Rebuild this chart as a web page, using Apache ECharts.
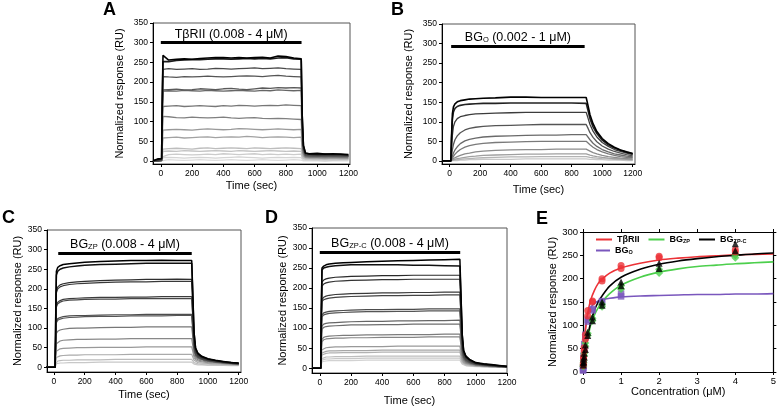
<!DOCTYPE html>
<html><head><meta charset="utf-8">
<script src="https://cdn.jsdelivr.net/npm/echarts@6/dist/echarts.min.js"></script>
<style>html,body{margin:0;padding:0;background:#fff}#c{width:779px;height:409px}</style>
</head><body><div id="c"></div>
<script>
// ---------- DATA ----------
const timeTicks = [0, 200, 400, 600, 800, 1000, 1200];
const respTicks = [0, 50, 100, 150, 200, 250, 300, 350];
const concTicks = [0, 1, 2, 3, 4, 5];
const eRespTicks = [0, 50, 100, 150, 200, 250, 300];

// Panel A: TβRII sensorgrams
const timeA = [-50, -20, 5, 10, 14, 50, 100, 150, 200, 250, 300, 350, 400, 450, 500, 550, 600, 650, 700, 750, 800, 850, 898, 904, 912, 925, 950, 1000, 1050, 1100, 1150, 1200];
const respA = [
  [0,5,6,180,268, 256,258,259,258,260,261,262,262,261,262,261,262,263,261,266,265,261, 259,120,40,20, 18,19,17,18,17,16],
  [0,3,5,170,252, 252,255,256,257,257,258,259,259,258,259,260,259,260,259,261,262,259, 258,115,38,19, 17,16,17,16,16,15],
  [0,0,2,150,232, 234,232,233,234,232,233,235,234,233,234,235,236,234,235,236,234,233, 232,100,32,16, 15,14,15,14,14,13],
  [0,0,1,140,214, 213,212,214,213,214,215,214,213,214,215,216,215,214,216,217,215,214, 213,95,30,15, 14,13,14,13,13,12],
  [0,0,1,120,180, 181,182,180,181,183,182,181,183,184,182,181,183,185,184,186,185,186, 185,85,28,14, 13,12,13,12,12,12],
  [0,0,1,115,177, 178,177,179,178,177,179,178,177,178,179,178,177,179,178,180,179,178, 179,80,26,13, 12,12,11,12,11,11],
  [0,0,1,90,138, 139,140,138,139,140,139,138,140,139,141,140,139,140,141,140,142,141, 140,64,22,12, 11,10,11,10,10,10],
  [0,0,0,70,113, 112,110,109,111,110,109,110,111,109,108,109,110,108,107,108,107,106, 105,50,18,10, 9,9,10,9,9,8],
  [0,0,0,50,78, 79,80,79,78,80,81,80,79,80,82,81,80,79,80,81,80,79, 80,38,14,9, 8,8,7,8,7,7],
  [0,0,0,38,58, 59,60,58,59,60,61,59,60,61,60,62,61,59,60,61,60,59, 60,28,12,8, 7,7,6,7,6,6],
  [0,0,0,20,30, 31,32,31,30,32,33,31,32,33,32,31,33,32,31,32,33,32, 31,15,8,6, 6,5,6,5,5,5],
  [0,0,0,15,24, 25,24,26,25,24,25,26,25,24,26,25,24,25,26,25,24,25, 24,12,6,5, 5,4,5,4,4,4],
  [0,0,0,10,15, 16,17,16,15,16,17,16,18,17,16,17,18,16,17,16,17,16, 17,8,4,3, 3,3,3,2,3,3],
  [0,0,0,5,8, 9,8,7,8,9,8,7,8,9,10,9,8,7,8,9,8,9, 8,4,2,2, 2,1,2,1,2,1],
  [0,0,0,1,2, 3,2,1,2,3,2,1,2,3,2,1,2,3,2,1,2,3, 2,1,0,0, 0,0,-1,0,0,0]
];

// Panel B: BG_O sensorgrams
const timeB = [-50, 8, 12, 18, 25, 35, 50, 70, 100, 130, 170, 220, 300, 400, 500, 600, 700, 800, 895, 905, 920, 940, 965, 1000, 1040, 1080, 1120, 1160, 1200];
const respB = [
  [0,0,60,120,138,146,151,154,156,158,159,160, 161,163,163,162,162,162,162, 145,118,95,75,57,44,35,28,23,19],
  [0,0,50,105,125,134,139,142,144,145,146,147, 147,148,148,148,148,148,147, 132,108,87,70,53,41,33,27,22,18],
  [0,0,30,65,88,100,108,113,116,118,120,121, 122,123,124,124,124,124,124, 112,93,76,61,47,37,29,24,20,16],
  [0,0,10,28,42,54,64,72,79,83,86,88, 90,91,92,93,93,93,93, 85,72,60,49,38,30,24,20,16,13],
  [0,0,4,12,20,28,36,44,51,55,58,61, 63,64,65,66,66,67,67, 62,54,45,37,29,23,18,15,12,10],
  [0,0,2,7,12,17,23,29,35,39,42,45, 47,48,49,50,50,50,50, 47,41,35,29,23,18,14,11,9,8],
  [0,0,1,3,6,8,11,14,18,20,23,25, 27,28,29,29,30,30,30, 28,25,21,18,14,11,9,7,6,5],
  [0,0,0,2,3,4,6,7,9,11,12,14, 15,16,17,17,18,18,18, 17,15,13,11,9,7,6,5,4,3],
  [0,0,0,1,2,2,3,4,5,6,7,8, 9,10,10,11,11,11,11, 10,9,8,7,6,5,4,3,3,2],
  [0,0,0,0,1,1,1,2,2,3,3,4, 4,4,5,5,5,5,5, 5,4,4,3,3,2,2,2,1,1]
];

// Panel C: BG_ZP sensorgrams
const timeC = [-50, 8, 12, 16, 25, 40, 60, 100, 150, 200, 300, 400, 500, 600, 700, 800, 895, 902, 910, 920, 935, 960, 1000, 1050, 1100, 1150, 1200];
const respC = [
  [0,0, 150,245,255,259,262,264,266,268, 270,271,272,272,273,272,272, 190,90,50,36,28, 22,18,15,12,11],
  [0,0, 140,235,245,250,253,256,258,260, 262,263,264,265,265,265,265, 185,88,48,35,27, 21,17,14,12,10],
  [0,0, 120,195,205,210,213,216,218,219, 221,222,223,224,224,225,224, 160,78,44,33,26, 20,17,14,11,10],
  [0,0, 115,190,200,205,208,211,213,214, 216,217,218,218,219,219,219, 156,76,43,32,25, 20,16,13,11,9],
  [0,0, 95,158,166,170,173,175,176,177, 178,178,179,179,180,180,180, 130,66,39,30,24, 19,16,13,11,9],
  [0,0, 92,154,162,166,169,171,172,173, 174,174,175,175,175,175,175, 126,64,38,29,23, 18,15,13,10,9],
  [0,0, 70,118,124,127,129,131,132,132, 133,134,134,135,135,135,135, 98,52,33,26,21, 17,14,12,10,9],
  [0,0, 68,114,120,123,125,127,128,129, 130,130,131,131,131,132,132, 96,51,32,25,21, 17,14,12,10,8],
  [0,0, 50,86,92,95,97,99,100,100, 101,102,102,103,103,103,103, 76,42,28,22,19, 15,13,11,9,8],
  [0,0, 35,60,65,67,69,70,71,71, 72,72,73,73,73,73,73, 55,32,23,19,16, 14,12,10,9,8],
  [0,0, 25,41,45,47,48,49,50,50, 51,51,51,52,52,52,52, 40,25,19,16,14, 12,11,9,8,7],
  [0,0, 15,25,28,29,30,31,31,32, 32,32,33,33,33,33,33, 26,18,14,12,11, 10,9,8,7,6],
  [0,0, 9,14,16,17,18,18,19,19, 19,20,20,20,20,20,20, 16,12,10,9,8, 8,7,6,6,5],
  [0,0, 5,9,10,11,11,12,12,12, 13,13,13,13,13,13,13, 11,8,7,6,6, 5,5,5,4,4]
];

// Panel D: BG_ZP-C sensorgrams
const timeD = [-50, 6, 10, 14, 25, 40, 60, 100, 150, 200, 300, 400, 500, 600, 700, 800, 898, 905, 913, 922, 937, 960, 1000, 1050, 1100, 1150, 1200];
const respD = [
  [0,0, 160,250,255,258,260,262,263,264, 266,267,268,269,270,271,272, 185,85,45,30,22, 14,11,9,7,5],
  [0,0, 150,245,250,252,254,256,257,258, 258,258,258,257,257,256,255, 178,82,43,29,21, 13,10,8,6,4],
  [0,0, 135,215,220,223,225,227,228,229, 230,231,231,232,232,232,232, 162,76,41,28,20, 13,10,8,6,4],
  [0,0, 130,205,210,213,215,217,218,219, 220,221,221,222,222,222,222, 155,73,40,27,19, 12,10,8,6,4],
  [0,0, 110,172,177,180,182,184,185,186, 187,188,188,189,189,190,190, 133,64,36,25,18, 12,9,7,5,4],
  [0,0, 105,166,171,173,175,177,178,179, 180,181,181,182,182,183,183, 128,62,35,24,17, 11,9,7,5,3],
  [0,0, 85,133,138,140,142,143,144,145, 146,146,147,147,148,148,148, 104,52,30,21,15, 10,8,6,5,3],
  [0,0, 82,128,133,135,137,138,139,140, 141,141,142,142,143,143,143, 100,50,29,20,15, 10,8,6,5,3],
  [0,0, 65,105,110,112,113,114,115,116, 117,117,118,118,119,119,120, 85,44,26,18,14, 9,7,6,4,3],
  [0,0, 60,97,102,104,105,106,107,108, 108,109,109,110,110,110,110, 78,41,25,17,13, 9,7,5,4,3],
  [0,0, 45,72,77,79,80,81,82,82, 83,83,84,84,84,85,85, 61,33,21,15,12, 8,6,5,4,3],
  [0,0, 42,66,71,73,74,75,75,76, 76,77,77,77,78,78,78, 56,31,20,14,11, 8,6,5,4,3],
  [0,0, 30,46,50,51,52,53,53,54, 54,54,55,55,55,55,55, 40,23,16,12,10, 7,5,4,3,3],
  [0,0, 24,38,41,42,43,43,44,44, 44,45,45,45,45,45,45, 33,20,14,11,9, 6,5,4,3,2],
  [0,0, 20,33,36,37,38,38,39,39, 39,40,40,40,40,40,40, 30,18,13,10,8, 6,5,4,3,2],
  [0,0, 15,24,27,28,28,29,29,29, 30,30,30,30,30,30,30, 23,14,10,8,7, 5,4,3,3,2],
  [0,0, 12,20,22,23,23,24,24,24, 25,25,25,25,25,25,25, 19,12,9,7,6, 5,4,3,2,2],
  [0,0, 9,16,18,18,19,19,19,19, 20,20,20,20,20,20,20, 15,10,7,6,5, 4,3,3,2,2]
];

// Injection bars (data coordinates) and their labels
const barA = [0, 900, 300];
const barB = [10, 885, 294];
const barC = [28, 895, 291];
const barD = [0, 900, 290];

// Panel E: binding isotherms
const concE = [0.008, 0.016, 0.031, 0.0625, 0.125, 0.25, 0.5, 1, 2, 4];
const concO = [0.002, 0.004, 0.008, 0.016, 0.031, 0.0625, 0.125, 0.25, 0.5, 1];
const redRun1 = [18, 32, 52, 80, 132, 152, 200, 228, 248, 262];
const redRun2 = [14, 28, 45, 70, 120, 150, 195, 222, 245, 257];
const greenRun1 = [15, 25, 40, 62, 83, 115, 145, 185, 220, 250];
const greenRun2 = [12, 20, 35, 55, 78, 110, 140, 178, 212, 245];
const blackRun1 = [20, 28, 40, 58, 85, 118, 150, 193, 233, 275];
const blackRun2 = [15, 22, 32, 48, 78, 110, 143, 185, 222, 260];
const purpleRun1 = [5, 10, 20, 35, 60, 80, 112, 135, 152, 168];
const purpleRun2 = [3, 8, 15, 30, 50, 75, 108, 132, 150, 162];
const fitX = [0, 0.01, 0.02, 0.05, 0.1, 0.15, 0.2, 0.3, 0.4, 0.5, 0.7, 1, 1.5, 2, 2.5, 3, 3.5, 4, 4.5, 5];
const fitRed = [0, 18, 35, 75, 115, 137, 154, 175, 190, 199, 212, 223, 233, 240, 244, 247, 249, 251, 252, 253];
const fitGreen = [0, 7, 14, 33, 62, 82, 100, 122, 138, 150, 168, 186, 203, 214, 221, 226, 229, 232, 234, 236];
const fitBlack = [0, 7, 15, 35, 70, 88, 105, 132, 150, 163, 184, 203, 220, 231, 238, 243, 247, 250, 253, 255];
const fitPurple = [0, 25, 45, 85, 115, 130, 138, 147, 152, 155, 158, 161, 163, 164, 165, 166, 166, 167, 167, 168];

// ---------- STYLE / LAYOUT ----------
const FONT = 'Liberation Sans, Arial, Helvetica, sans-serif';
const grayA = ['#000','#1a1a1a','#4a4a4a','#555','#5a5a5a','#666','#777','#808080','#999','#a2a2a2','#bdbdbd','#c4c4c4','#cccccc','#d4d4d4','#dcdcdc'];
const grayB = ['#000','#222','#3c3c3c','#555','#6a6a6a','#7a7a7a','#8c8c8c','#a0a0a0','#b4b4b4','#c8c8c8'];
const grayC = ['#000','#111','#2e2e2e','#383838','#3c3c3c','#474747','#4d4d4d','#555','#777','#888','#999','#aaa','#bbb','#c8c8c8'];
const grayD = ['#000','#111','#2a2a2a','#333','#3a3a3a','#444','#4c4c4c','#555','#666','#6e6e6e','#7c7c7c','#868686','#999','#a6a6a6','#b2b2b2','#bdbdbd','#c8c8c8','#d2d2d2'];

const grids = [
  {left:153, top:23, width:197, height:141, show:true, borderColor:'#555', borderWidth:1},
  {left:442, top:24, width:193, height:140, show:true, borderColor:'#555', borderWidth:1},
  {left:47, top:230, width:194, height:142, show:true, borderColor:'#555', borderWidth:1},
  {left:312, top:228, width:195, height:145, show:true, borderColor:'#555', borderWidth:1},
  {left:583, top:232, width:194, height:140, show:false}
];

function plain(v) { return String(v); }

function xAxisT(gi, min, max, gap) {
  return {type:'value', gridIndex:gi, min:min, max:max,
    axisLine:{show:true, onZero:false, lineStyle:{color:'#000', width:1}},
    axisTick:{show:true, customValues:timeTicks, length:3, lineStyle:{color:'#000'}},
    axisLabel:{customValues:timeTicks, formatter:plain, fontSize:8.5, color:'#000', margin:5, fontFamily:FONT},
    splitLine:{show:false},
    name:'Time (sec)', nameLocation:'middle', nameGap:gap,
    nameTextStyle:{fontSize:11, color:'#000', fontFamily:FONT}};
}
function yAxisR(gi, min, max, gap) {
  return {type:'value', gridIndex:gi, min:min, max:max,
    axisLine:{show:true, onZero:false, lineStyle:{color:'#000', width:1}},
    axisTick:{show:true, customValues:respTicks, length:3, lineStyle:{color:'#000'}},
    axisLabel:{customValues:respTicks, formatter:plain, fontSize:8.5, color:'#000', margin:5, fontFamily:FONT},
    splitLine:{show:false},
    name:'Normalized response (RU)', nameLocation:'middle', nameGap:gap,
    nameTextStyle:{fontSize:11, color:'#000', fontFamily:FONT}};
}

const titleRich = {
  m:{fontSize:12.5, color:'#000', fontFamily:FONT},
  s:{fontSize:7.5, color:'#000', fontFamily:FONT, verticalAlign:'bottom'}
};

function sensor(gi, t, curves, colors, width, bar, label) {
  return curves.map(function (vals, i) {
    const s = {type:'line', xAxisIndex:gi, yAxisIndex:gi,
      data: vals.map(function (v, j) { return [t[j], v]; }),
      symbol:'none', showSymbol:false, silent:true, animation:false,
      lineStyle:{width: i < 2 ? width + 0.3 : width, color:colors[i]},
      z: 10 + curves.length - i};
    if (i === 0) {
      s.markLine = {silent:true, symbol:'none', animation:false,
        lineStyle:{color:'#000', width:3, type:'solid'},
        label:{show:true, position:'insideMiddleTop', distance:2, formatter:label, rich:titleRich},
        data:[[{coord:[bar[0], bar[2]]}, {coord:[bar[1], bar[2]]}]]};
    }
    return s;
  });
}

function pts(xs, ys) { return ys.map(function (v, i) { return [xs[i], v]; }); }

const colRed = '#ec3237', colGreen = '#4ccf4c', colBlack = '#000', colPurple = '#7a57bd';

const series = []
  .concat(sensor(0, timeA, respA, grayA, 1.3, barA, '{m|TβRII (0.008 - 4 μM)}'))
  .concat(sensor(1, timeB, respB, grayB, 1.3, barB, '{m|BG}{s|O}{m| (0.002 - 1 μM)}'))
  .concat(sensor(2, timeC, respC, grayC, 1.2, barC, '{m|BG}{s|ZP}{m| (0.008 - 4 μM)}'))
  .concat(sensor(3, timeD, respD, grayD, 1.2, barD, '{m|BG}{s|ZP-C}{m| (0.008 - 4 μM)}'));

function fitLine(name, ys, color) {
  return {type:'line', name:name, xAxisIndex:4, yAxisIndex:4, data:pts(fitX, ys), symbol:'none',
    smooth:0.3, lineStyle:{width:1.6, color:color}, itemStyle:{color:color}, z:20, animation:false, silent:true};
}
function scat(name, xs, a, b, symbol, size, color) {
  return {type:'scatter', name:name, xAxisIndex:4, yAxisIndex:4, data:pts(xs, a).concat(pts(xs, b)),
    symbol:symbol, symbolSize:size, itemStyle:{color:color}, z:25, animation:false, silent:true};
}
series.push(
  fitLine('BG_O', fitPurple, colPurple),
  fitLine('BG_ZP', fitGreen, colGreen),
  fitLine('TβRII', fitRed, colRed),
  fitLine('BG_ZP-C', fitBlack, colBlack),
  scat('BG_O pts', concO, purpleRun1, purpleRun2, 'rect', 6.5, colPurple),
  scat('BG_ZP pts', concE, greenRun1, greenRun2, 'diamond', 8, colGreen),
  scat('TβRII pts', concE, redRun1, redRun2, 'circle', 7, colRed),
  scat('BG_ZP-C pts', concE, blackRun1, blackRun2, 'triangle', 7, colBlack)
);

const legendRich = {
  n:{fontSize:9, fontWeight:'bold', color:'#000', fontFamily:FONT},
  s:{fontSize:5.5, fontWeight:'bold', color:'#000', fontFamily:FONT, verticalAlign:'bottom'}
};
const legendNames = {'TβRII':'{n|TβRII}', 'BG_ZP':'{n|BG}{s|ZP}', 'BG_ZP-C':'{n|BG}{s|ZP-C}', 'BG_O':'{n|BG}{s|O}'};
function legendFmt(name) { return legendNames[name]; }

const option = {
  animation:false,
  backgroundColor:'#fff',
  textStyle:{fontFamily:FONT},
  grid: grids,
  xAxis: [
    xAxisT(0, -50, 1210, 16),
    xAxisT(1, -50, 1215, 20),
    xAxisT(2, -45, 1215, 17),
    xAxisT(3, -50, 1200, 22),
    {type:'value', gridIndex:4, min:0, max:5, interval:1,
      axisLine:{show:true, onZero:false, lineStyle:{color:'#000', width:1.2}},
      axisTick:{show:true, customValues:concTicks, length:3, lineStyle:{color:'#000'}},
      axisLabel:{customValues:concTicks, formatter:plain, fontSize:9.5, color:'#000', margin:4, fontFamily:FONT},
      splitLine:{show:false},
      name:'Concentration (μM)', nameLocation:'middle', nameGap:14,
      nameTextStyle:{fontSize:11, color:'#000', fontFamily:FONT}},
    {type:'value', gridIndex:4, min:0, max:5, interval:1, position:'top',
      axisLine:{show:true, onZero:false, lineStyle:{color:'#000', width:1.2}},
      axisTick:{show:true, customValues:concTicks, length:3, lineStyle:{color:'#000'}},
      axisLabel:{show:false}, splitLine:{show:false}}
  ],
  yAxis: [
    yAxisR(0, -8, 350, 28),
    yAxisR(1, -8, 350, 28),
    yAxisR(2, -12, 350, 24),
    yAxisR(3, -12, 350, 24),
    {type:'value', gridIndex:4, min:0, max:300, interval:50,
      axisLine:{show:true, onZero:false, lineStyle:{color:'#000', width:1.2}},
      axisTick:{show:true, customValues:eRespTicks, length:3, lineStyle:{color:'#000'}},
      axisLabel:{customValues:eRespTicks, formatter:plain, fontSize:9.5, color:'#000', margin:5, fontFamily:FONT},
      splitLine:{show:false},
      name:'Normalized response (RU)', nameLocation:'middle', nameGap:25,
      nameTextStyle:{fontSize:11, color:'#000', fontFamily:FONT}},
    {type:'value', gridIndex:4, min:0, max:300, interval:50, position:'right',
      axisLine:{show:true, onZero:false, lineStyle:{color:'#000', width:1.2}},
      axisTick:{show:true, customValues:eRespTicks, length:3, lineStyle:{color:'#000'}},
      axisLabel:{show:false}, splitLine:{show:false}}
  ],
  legend: [
    {data:[{name:'TβRII', icon:'rect'}, {name:'BG_ZP', icon:'rect'}, {name:'BG_ZP-C', icon:'rect'}],
      left:596, top:235, itemWidth:16, itemHeight:2, itemGap:9, padding:0,
      formatter:legendFmt, textStyle:{rich:legendRich}, selectedMode:false},
    {data:[{name:'BG_O', icon:'rect'}],
      left:596, top:246, itemWidth:14, itemHeight:2, padding:0,
      formatter:legendFmt, textStyle:{rich:legendRich}, selectedMode:false}
  ],
  graphic: [
    {type:'text', left:103, top:1, style:{text:'A', font:'bold 18px ' + FONT, fill:'#000'}},
    {type:'text', left:391, top:1, style:{text:'B', font:'bold 18px ' + FONT, fill:'#000'}},
    {type:'text', left:2, top:209, style:{text:'C', font:'bold 18px ' + FONT, fill:'#000'}},
    {type:'text', left:265, top:209, style:{text:'D', font:'bold 18px ' + FONT, fill:'#000'}},
    {type:'text', left:536, top:210, style:{text:'E', font:'bold 18px ' + FONT, fill:'#000'}}
  ],
  series: series
};

const chart = echarts.init(document.getElementById('c'), null, {renderer:'canvas'});
chart.setOption(option);
</script></body></html>
